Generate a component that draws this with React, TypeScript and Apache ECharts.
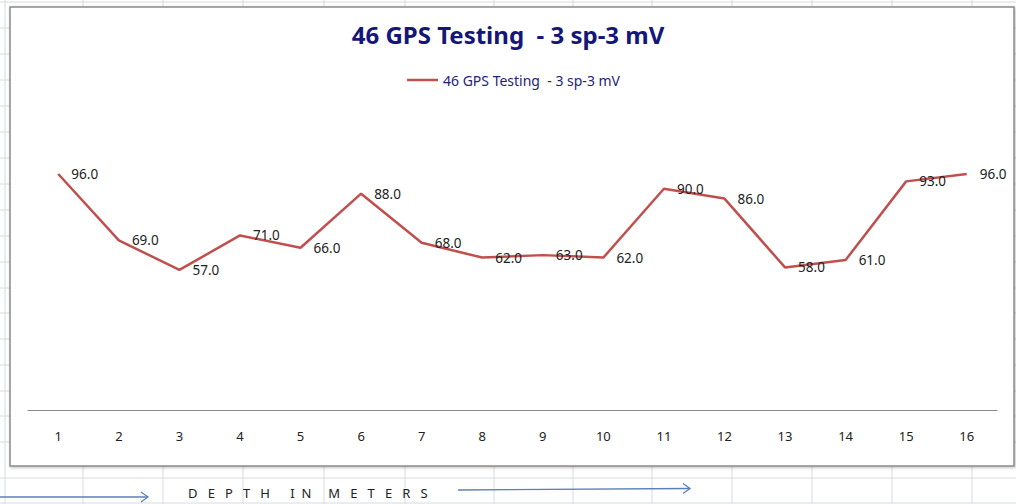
import React, { useEffect, useRef } from "react";
import * as echarts from "echarts";

const categories = ["1", "2", "3", "4", "5", "6", "7", "8", "9", "10", "11", "12", "13", "14", "15", "16"];
const values = [96, 69, 57, 71, 66, 88, 68, 62, 63, 62, 90, 86, 58, 61, 93, 96];
const seriesName = "46 GPS Testing  - 3 sp-3 mV";
const titleText = "46 GPS Testing  - 3 sp-3 mV";
const axisTitle = "D   E   P   T   H      I  N     M   E   T   E   R   S";

const sheetCols = [5, 83, 163, 243, 324, 405, 494, 573, 652, 732, 812, 892, 972];
const sheetRows = [2, 28, 54, 80, 106, 132, 158, 184, 210, 236, 262, 288, 313, 339, 365, 391, 416, 442, 478, 503];

const FONT = "'Noto Sans', 'Open Sans', sans-serif";

export default function App() {
  const ref = useRef<HTMLDivElement>(null);
  useEffect(() => {
    const chart = echarts.init(ref.current!, null, { renderer: "svg" });
    const gridColor = "#d6dbe2";
    const bg: any[] = [];
    sheetCols.forEach((x) =>
      bg.push({ type: "line", z: -20, shape: { x1: x, y1: 0, x2: x, y2: 504 }, style: { stroke: gridColor, lineWidth: 1 } })
    );
    sheetRows.forEach((y) =>
      bg.push({ type: "line", z: -20, shape: { x1: 0, y1: y, x2: 1016, y2: y }, style: { stroke: gridColor, lineWidth: 1 } })
    );
    const arrowColor = "#5b80b8";
    chart.setOption({
      animation: false,
      backgroundColor: "#ffffff",
      title: {
        text: titleText,
        left: "center",
        top: 17,
        textStyle: { fontFamily: FONT, fontSize: 24, fontWeight: "bold", color: "#14167a" },
      },
      legend: {
        data: [{ name: seriesName, icon: "rect" }],
        left: 402,
        top: 68,
        itemWidth: 31,
        itemHeight: 2.5,
        textStyle: { fontFamily: FONT, fontSize: 14, color: "#1f2378" },
      },
      grid: { left: 28, right: 19, top: 115, bottom: 94 },
      xAxis: {
        type: "category",
        data: categories,
        boundaryGap: true,
        axisLine: { lineStyle: { color: "#8a8a8a", width: 1.2 } },
        axisTick: { show: false },
        axisLabel: { margin: 19, fontFamily: FONT, fontSize: 13, color: "#222" },
      },
      yAxis: {
        type: "value",
        min: 0,
        max: 120,
        interval: 20,
        show: false,
        splitLine: { show: false },
      },
      series: [
        {
          name: seriesName,
          type: "line",
          data: values,
          symbol: "circle",
          symbolSize: 0.1,
          showSymbol: true,
          lineStyle: { color: "#c0504d", width: 2.5 },
          itemStyle: { color: "#c0504d" },
          label: {
            show: true,
            position: "right",
            distance: 13,
            formatter: (p: any) => Number(p.value).toFixed(1),
            fontFamily: FONT,
            fontSize: 13.5,
            color: "#222",
          },
          z: 5,
        },
      ],
      graphic: [
        ...bg,
        {
          type: "rect",
          z: -10,
          shape: { x: 10, y: 7, width: 1004, height: 459 },
          style: {
            fill: "#ffffff",
            stroke: "#8a8a8a",
            lineWidth: 1.5,
            shadowBlur: 3,
            shadowOffsetX: 1,
            shadowOffsetY: 1,
            shadowColor: "rgba(0,0,0,0.25)",
          },
        },
        {
          type: "text",
          z: 10,
          x: 188,
          y: 493,
          style: {
            text: axisTitle,
            fontFamily: FONT,
            fontSize: 13,
            fill: "#222",
            verticalAlign: "middle",
          },
        },
        {
          type: "line",
          z: 10,
          shape: { x1: 0, y1: 497, x2: 148, y2: 497 },
          style: { stroke: arrowColor, lineWidth: 1.3 },
        },
        {
          type: "polyline",
          z: 10,
          shape: { points: [[141, 492], [148, 497], [141, 502]] },
          style: { stroke: arrowColor, lineWidth: 1.3, fill: "none" },
        },
        {
          type: "line",
          z: 10,
          shape: { x1: 458, y1: 490, x2: 690, y2: 488.5 },
          style: { stroke: arrowColor, lineWidth: 1.3 },
        },
        {
          type: "polyline",
          z: 10,
          shape: { points: [[683, 483.5], [690, 488.5], [683, 493.5]] },
          style: { stroke: arrowColor, lineWidth: 1.3, fill: "none" },
        },
      ],
    });
    return () => chart.dispose();
  }, []);
  return <div ref={ref} style={{ width: 1016, height: 504, position: "absolute", left: 0, top: 0 }} />;
}
